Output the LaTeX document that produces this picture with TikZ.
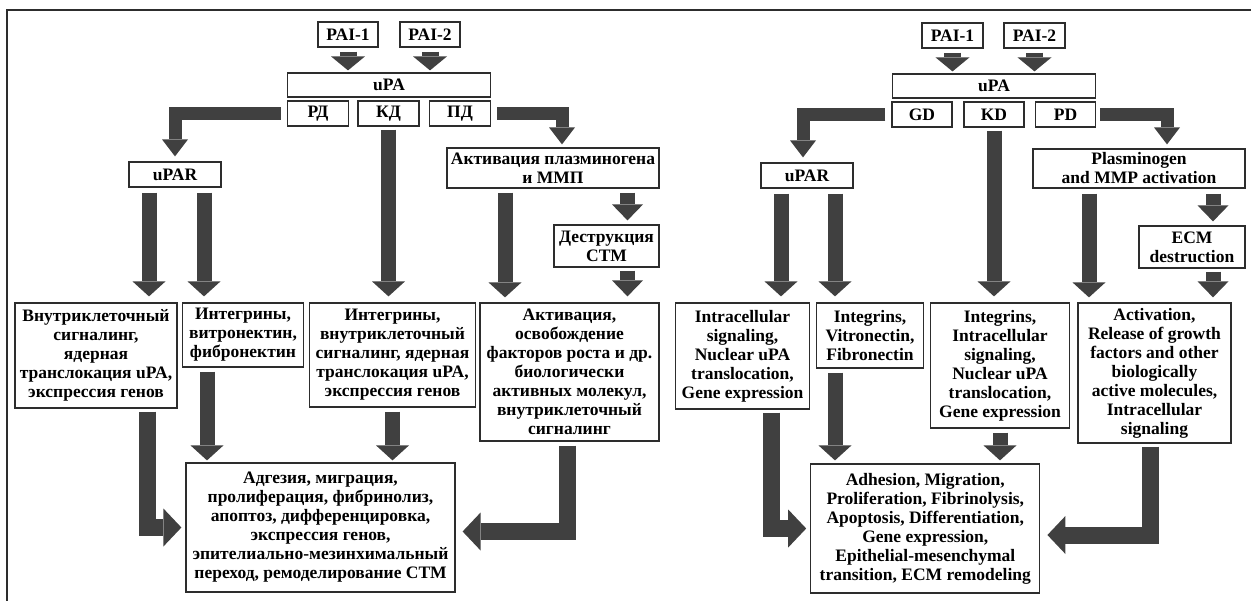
\documentclass[tikz,border=0pt]{standalone}
\usepackage{fontspec}
\setmainfont{Liberation Serif}
\usetikzlibrary{arrows.meta,calc}

\definecolor{arrgray}{RGB}{64,64,64}
\definecolor{boxline}{RGB}{45,45,45}

\tikzset{
  box/.style={draw=boxline, line width=1.2pt, align=center, inner sep=1pt,
    font=\fontsize{17.5}{19}\selectfont\bfseries},
  shortarr/.style={draw=arrgray, line width=17pt, -{Triangle[width=34pt,length=14pt,line width=0pt]}},
  downarr/.style={draw=arrgray, line width=15pt, -{Triangle[width=33pt,length=15pt,line width=0pt]}},
  smallarr/.style={draw=arrgray, line width=15pt, -{Triangle[width=31pt,length=16pt,line width=0pt]}},
  bendarr/.style={draw=arrgray, line width=13pt, line join=miter, -{Triangle[width=26pt,length=17pt,line width=0pt]}},
  outarr/.style={draw=arrgray, line width=17pt, line join=miter, -{Triangle[width=38pt,length=18pt,line width=0pt]}},
}

\begin{document}
\begin{tikzpicture}[x=1pt, y=-1pt]
    \useasboundingbox (0,0) rectangle (1251,601);

    % frame
    \draw[boxline, line width=1.3pt] (7,601) -- (7,10) -- (1251,10);

    % ---- left panel ----
    \node[box, minimum width=60pt, minimum height=25pt] (pai1L) at (348,34.5) {PAI-1};
    \node[box, minimum width=60pt, minimum height=25pt] (pai2L) at (430,34.5) {PAI-2};
    \node[box, minimum width=203pt, minimum height=24pt] (upaL) at (389,85) {uPA};
    \node[box, minimum width=61pt, minimum height=25pt] (rdL) at (318,113.5) {РД};
    \node[box, minimum width=61pt, minimum height=25pt] (kdL) at (388.5,113.5) {КД};
    \node[box, minimum width=61pt, minimum height=25pt] (pdL) at (460,113.5) {ПД};
    \node[box, minimum width=92pt, minimum height=25pt] (uparL) at (175,174.5) {uPAR};
    \node[box, minimum width=212pt, minimum height=40pt] (actL) at (553,168) {Активация плазминогена\\и ММП};
    \node[box, minimum width=105pt, minimum height=42pt] (destL) at (606.5,246) {Деструкция\\СТМ};

    \node[box, minimum width=162pt, minimum height=105pt] (b1L) at (96,355.5)
        {Внутриклеточный\\сигналинг,\\ядерная\\транслокация uPA,\\экспрессия генов};
    \node[box, minimum width=121pt, minimum height=64pt] (b2L) at (243,335)
        {Интегрины,\\витронектин,\\фибронектин};
    \node[box, minimum width=166pt, minimum height=104pt] (b3L) at (392.5,355)
        {Интегрины,\\внутриклеточный\\сигналинг, ядерная\\транслокация uPA,\\экспрессия генов};
    \node[box, minimum width=179pt, minimum height=138pt] (b4L) at (569.5,372)
        {Активация,\\освобождение\\факторов роста и др.\\биологически\\активных молекул,\\внутриклеточный\\сигналинг};
    \node[box, minimum width=269pt, minimum height=129pt] (resL) at (320.5,527.5)
        {Адгезия, миграция,\\пролиферация, фибринолиз,\\апоптоз, дифференцировка,\\экспрессия генов,\\эпителиально-мезинхимальный\\переход, ремоделирование СТМ};

    % PAI -> uPA
    \draw[shortarr, shorten <=4pt, shorten >=2pt] (pai1L.south) -- (pai1L.south |- upaL.north);
    \draw[shortarr, shorten <=4pt, shorten >=2pt] (pai2L.south) -- (pai2L.south |- upaL.north);

    % domains
    \draw[bendarr, shorten <=6pt, shorten >=5pt] (rdL.west) -| (uparL.north);
    \draw[downarr, shorten <=3pt, shorten >=6pt] (kdL.south) -- (kdL.south |- b3L.north);
    \draw[bendarr, shorten <=6pt, shorten >=3pt] (pdL.east) -| ($(actL.north)+(9,0)$);

    % uPAR
    \coordinate (u1L) at ($(uparL.south)+(-26,0)$);
    \coordinate (u2L) at ($(uparL.south)+(29,0)$);
    \draw[downarr, shorten <=5pt, shorten >=6pt] (u1L) -- (u1L |- b1L.north);
    \draw[downarr, shorten <=5pt, shorten >=6pt] (u2L) -- (u2L |- b2L.north);

    % activation
    \coordinate (a1L) at ($(actL.south)+(-48,0)$);
    \coordinate (a2L) at ($(actL.south)+(74.5,0)$);
    \coordinate (d1L) at (a2L |- destL.south);
    \draw[downarr, shorten <=4pt, shorten >=5pt] (a1L) -- (a1L |- b4L.north);
    \draw[smallarr, shorten <=4pt, shorten >=4pt] (a2L) -- (a2L |- destL.north);
    \draw[smallarr, shorten <=3pt, shorten >=6pt] (d1L) -- (d1L |- b4L.north);

    % to result
    \coordinate (r1L) at ($(b1L.south)+(51,0)$);
    \coordinate (r2L) at ($(b2L.south)+(-36,0)$);
    \coordinate (r4L) at ($(b4L.south)+(-2,0)$);
    \draw[outarr, shorten <=3pt, shorten >=4pt] (r1L) |- (resL.west);
    \draw[downarr, shorten <=4pt, shorten >=2pt] (r2L) -- (r2L |- resL.north);
    \draw[downarr, shorten <=4pt, shorten >=2pt] (b3L.south) -- (b3L.south |- resL.north);
    \draw[outarr, shorten <=4pt, shorten >=7pt] (r4L) |- ($(resL.east)+(0,4)$);

    % ---- right panel ----
    \node[box, minimum width=61pt, minimum height=25pt] (pai1R) at (952.5,35.5) {PAI-1};
    \node[box, minimum width=61pt, minimum height=25pt] (pai2R) at (1034.5,35.5) {PAI-2};
    \node[box, minimum width=203pt, minimum height=24pt] (upaR) at (994,86) {uPA};
    \node[box, minimum width=60pt, minimum height=25pt] (gdR) at (922,114.5) {GD};
    \node[box, minimum width=60pt, minimum height=25pt] (kdR) at (994,114.5) {KD};
    \node[box, minimum width=60pt, minimum height=25pt] (pdR) at (1065.5,114.5) {PD};
    \node[box, minimum width=92pt, minimum height=25pt] (uparR) at (807,175.5) {uPAR};
    \node[box, minimum width=212pt, minimum height=39pt] (actR) at (1139,168.5) {Plasminogen\\and MMP activation};
    \node[box, minimum width=106pt, minimum height=42pt] (destR) at (1192,247) {ECM\\destruction};

    \node[box, minimum width=134pt, minimum height=106pt] (b1R) at (742.5,356)
        {Intracellular\\signaling,\\Nuclear uPA\\translocation,\\Gene expression};
    \node[box, minimum width=107pt, minimum height=65pt] (b2R) at (870,335.5)
        {Integrins,\\Vitronectin,\\Fibronectin};
    \node[box, minimum width=139pt, minimum height=125pt] (b3R) at (1000,365.5)
        {Integrins,\\Intracellular\\signaling,\\Nuclear uPA\\translocation,\\Gene expression};
    \node[box, minimum width=153pt, minimum height=140pt] (b4R) at (1154.5,373)
        {Activation,\\Release of growth\\factors and other\\biologically\\active molecules,\\Intracellular\\signaling};
    \node[box, minimum width=229pt, minimum height=129pt] (resR) at (925.3,528.5)
        {Adhesion, Migration,\\Proliferation, Fibrinolysis,\\Apoptosis, Differentiation,\\Gene expression,\\Epithelial-mesenchymal\\transition, ECM remodeling};

    % PAI -> uPA
    \draw[shortarr, shorten <=4pt, shorten >=2pt] (pai1R.south) -- (pai1R.south |- upaR.north);
    \draw[shortarr, shorten <=4pt, shorten >=2pt] (pai2R.south) -- (pai2R.south |- upaR.north);

    % domains
    \draw[bendarr, shorten <=6pt, shorten >=5pt] (gdR.west) -| ($(uparR.north)+(-4,0)$);
    \draw[downarr, shorten <=3pt, shorten >=6pt] (kdR.south) -- (kdR.south |- b3R.north);
    \draw[bendarr, shorten <=4pt, shorten >=4pt] (pdR.east) -| ($(actR.north)+(28,0)$);

    % uPAR
    \coordinate (u1R) at ($(uparR.south)+(-26,0)$);
    \coordinate (u2R) at ($(uparR.south)+(28,0)$);
    \draw[downarr, shorten <=5pt, shorten >=6pt] (u1R) -- (u1R |- b1R.north);
    \draw[downarr, shorten <=5pt, shorten >=6pt] (u2R) -- (u2R |- b2R.north);

    % activation
    \coordinate (a1R) at ($(actR.south)+(-50,0)$);
    \coordinate (a2R) at ($(actR.south)+(74,0)$);
    \coordinate (d1R) at (a2R |- destR.south);
    \draw[downarr, shorten <=5pt, shorten >=5pt] (a1R) -- (a1R |- b4R.north);
    \draw[smallarr, shorten <=5pt, shorten >=4pt] (a2R) -- (a2R |- destR.north);
    \draw[smallarr, shorten <=3pt, shorten >=5pt] (d1R) -- (d1R |- b4R.north);

    % to result
    \coordinate (r1R) at ($(b1R.south)+(29,0)$);
    \coordinate (r2R) at ($(b2R.south)+(-35,0)$);
    \coordinate (r4R) at ($(b4R.south)+(-4.5,0)$);
    \draw[outarr, shorten <=3pt, shorten >=4pt] (r1R) |- (resR.west);
    \draw[downarr, shorten <=4pt, shorten >=3pt] (r2R) -- (r2R |- resR.north);
    \draw[downarr, shorten <=4pt, shorten >=3pt] (b3R.south) -- (b3R.south |- resR.north);
    \draw[outarr, shorten <=3pt, shorten >=7pt] (r4R) |- ($(resR.east)+(0,6.5)$);

\end{tikzpicture}
\end{document}
